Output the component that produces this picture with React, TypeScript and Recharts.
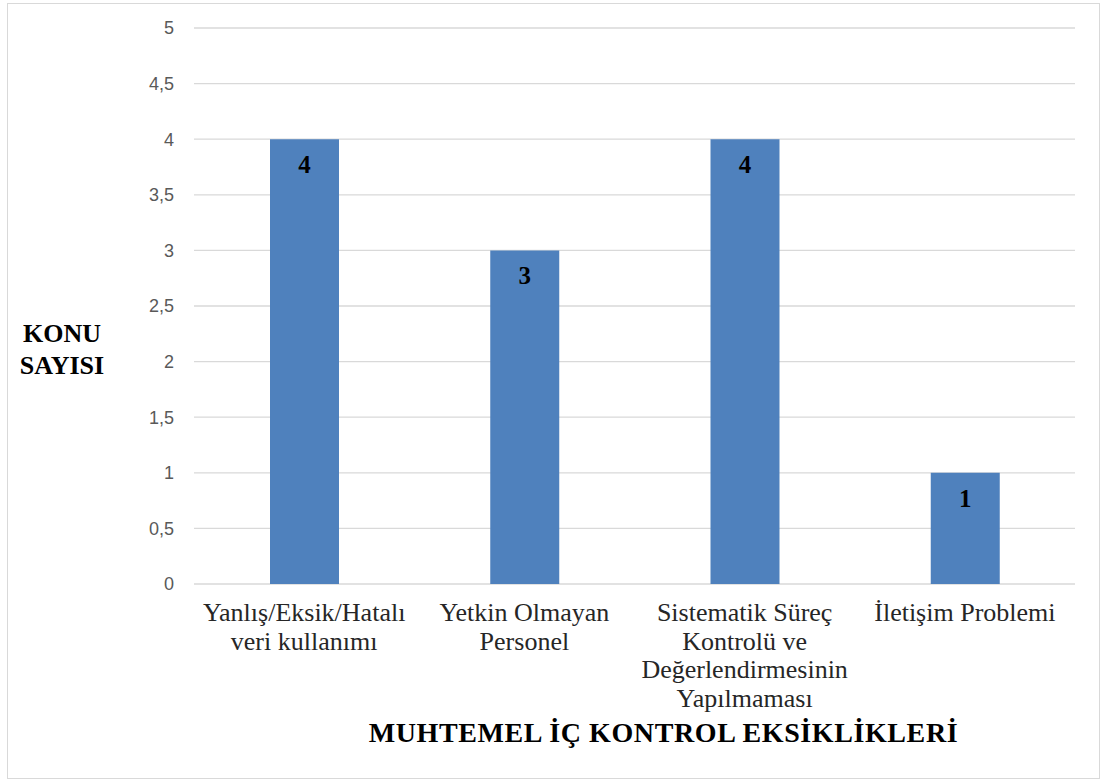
import { BarChart, Bar, XAxis, YAxis, CartesianGrid, LabelList } from "recharts";

const categories = [
  "Yanlış/Eksik/Hatalı\nveri kullanımı",
  "Yetkin Olmayan\nPersonel",
  "Sistematik Süreç\nKontrolü ve\nDeğerlendirmesinin\nYapılmaması",
  "İletişim Problemi",
];
const konuSayisi = [4, 3, 4, 1];
const yTicks = [0, 0.5, 1, 1.5, 2, 2.5, 3, 3.5, 4, 4.5, 5];

const xTitle = "MUHTEMEL İÇ KONTROL EKSİKLİKLERİ";
const yTitle = ["KONU", "SAYISI"];

const data = categories.map((name, i) => ({ name, value: konuSayisi[i] }));

const serif = "'Liberation Serif', 'Times New Roman', serif";

// multi-line category names under each bar
const CategoryTick = (props: any) => {
  const { x, y, payload } = props;
  const lines = String(payload.value).split("\n");
  return (
    <g transform={`translate(${x},${y})`}>
      <text textAnchor="middle" fill="#262626" fontFamily={serif} fontSize={26}>
        {lines.map((line: string, i: number) => (
          <tspan key={i} x={0} y={29 + i * 28.5}>
            {line}
          </tspan>
        ))}
      </text>
    </g>
  );
};

const XTitle = (props: any) => {
  const { viewBox } = props;
  const cx = viewBox.x + viewBox.width / 2 + 29;
  return (
    <text
      x={cx}
      y={742}
      textAnchor="middle"
      fill="#000"
      fontFamily={serif}
      fontSize={28}
      fontWeight="bold"
      letterSpacing={0.6}
    >
      {xTitle}
    </text>
  );
};

const YTitle = () => (
  <text textAnchor="middle" fill="#000" fontFamily={serif} fontSize={26} fontWeight="bold">
    {yTitle.map((line, i) => (
      <tspan key={i} x={62} y={342 + i * 32}>
        {line}
      </tspan>
    ))}
  </text>
);

export default function App() {
  return (
    <div style={{ position: "absolute", left: 0, top: 0, width: 1107, height: 781, background: "#fff" }}>
      <div
        style={{
          position: "absolute",
          left: 7,
          top: 3,
          width: 1093,
          height: 776,
          border: "1px solid #d9d9d9",
          boxSizing: "border-box",
        }}
      />
      <BarChart
        width={1107}
        height={781}
        data={data}
        margin={{ top: 28, right: 32, bottom: 47, left: 0 }}
        style={{ position: "absolute", left: 0, top: 0 }}
      >
        <CartesianGrid vertical={false} stroke="#d9d9d9" strokeWidth={1.3} />
        <XAxis
          dataKey="name"
          axisLine={false}
          tickLine={false}
          height={150}
          interval={0}
          tick={<CategoryTick />}
          label={<XTitle />}
        />
        <YAxis
          width={194}
          domain={[0, 5]}
          ticks={yTicks}
          axisLine={false}
          tickLine={false}
          tickSize={0}
          tickMargin={20}
          tickFormatter={(v: number) => String(v).replace(".", ",")}
          tick={{ fill: "#595959", fontSize: 18, fontFamily: "'Liberation Sans', Arial, sans-serif" }}
          label={<YTitle />}
        />
        <Bar dataKey="value" fill="#4f81bd" barSize={69} isAnimationActive={false}>
          <LabelList
            dataKey="value"
            position="insideTop"
            offset={16}
            fill="#000"
            fontSize={25}
            fontWeight="bold"
            fontFamily={serif}
          />
        </Bar>
      </BarChart>
    </div>
  );
}
